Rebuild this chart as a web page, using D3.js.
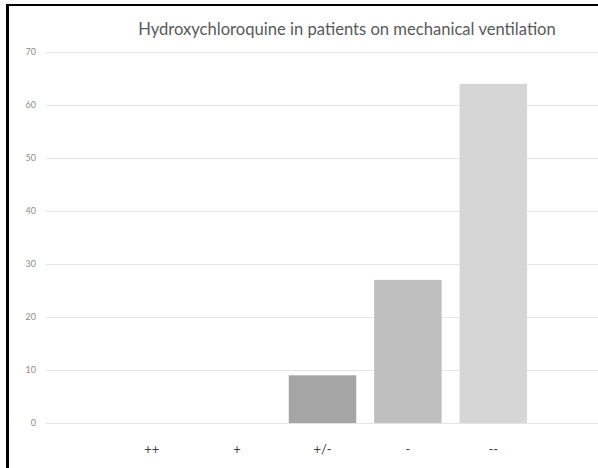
<!DOCTYPE html>
<html>
<head>
<meta charset="utf-8">
<script src="https://cdn.jsdelivr.net/npm/d3@7"></script>
<style>
  body { margin: 0; background: #fff; }
  svg { display: block; }
</style>
</head>
<body>
<div id="vis"></div>
<script>
// chart data
const categories = ['++', '+', '+/-', '-', '--'];
const values = [0, 0, 9, 27, 64];
const barColors = ['#a5a5a5', '#a5a5a5', '#a5a5a5', '#bfbfbf', '#d6d6d6'];
const yTicks = [0, 10, 20, 30, 40, 50, 60, 70];
const title = 'Hydroxychloroquine in patients on mechanical ventilation';

const W = 598, H = 468;

const svg = d3.select('#vis')
  .append('svg')
  .attr('width', W)
  .attr('height', H);

// frame (left and top edge only, the rest is cropped)
svg.append('line')
  .attr('x1', 7.5).attr('x2', 7.5)
  .attr('y1', 4).attr('y2', H)
  .attr('stroke', '#000').attr('stroke-width', 3);
svg.append('line')
  .attr('x1', 6).attr('x2', W)
  .attr('y1', 5).attr('y2', 5)
  .attr('stroke', '#000').attr('stroke-width', 2);

const x = d3.scaleBand()
  .domain(categories)
  .range([109, 536])
  .paddingInner(0.21)
  .paddingOuter(0.105);

const y = d3.scaleLinear()
  .domain([0, 70])
  .range([423, 52]);

// gridlines
svg.append('g')
  .selectAll('line')
  .data(yTicks).enter()
  .append('line')
  .attr('x1', 46).attr('x2', W)
  .attr('y1', d => y(d) + 0.5).attr('y2', d => y(d) + 0.5)
  .attr('stroke', '#e4e4e4')
  .attr('stroke-width', 1);

// y tick labels
svg.append('g')
  .selectAll('text')
  .data(yTicks).enter()
  .append('text')
  .attr('x', 36)
  .attr('y', d => y(d))
  .attr('dy', '0.35em')
  .attr('text-anchor', 'end')
  .style('font-family', 'Lato, "Open Sans", sans-serif')
  .style('font-size', '9px')
  .style('fill', '#8c8c8c')
  .text(d => d);

// bars
svg.append('g')
  .selectAll('rect')
  .data(values).enter()
  .append('rect')
  .attr('x', (d, i) => x(categories[i]))
  .attr('y', d => y(d))
  .attr('width', x.bandwidth())
  .attr('height', d => y(0) - y(d))
  .attr('fill', (d, i) => barColors[i]);

// category labels
svg.append('g')
  .selectAll('text')
  .data(categories).enter()
  .append('text')
  .attr('x', d => x(d) + x.bandwidth() / 2)
  .attr('y', 454)
  .attr('text-anchor', 'middle')
  .style('font-family', 'Lato, "Open Sans", sans-serif')
  .style('font-size', '13px')
  .style('fill', '#404040')
  .text(d => d);

// title
svg.append('text')
  .attr('x', 347)
  .attr('y', 35)
  .attr('text-anchor', 'middle')
  .style('font-family', 'Lato, "Open Sans", sans-serif')
  .style('font-size', '16.6px')
  .style('fill', '#595959')
  .text(title);
</script>
</body>
</html>
